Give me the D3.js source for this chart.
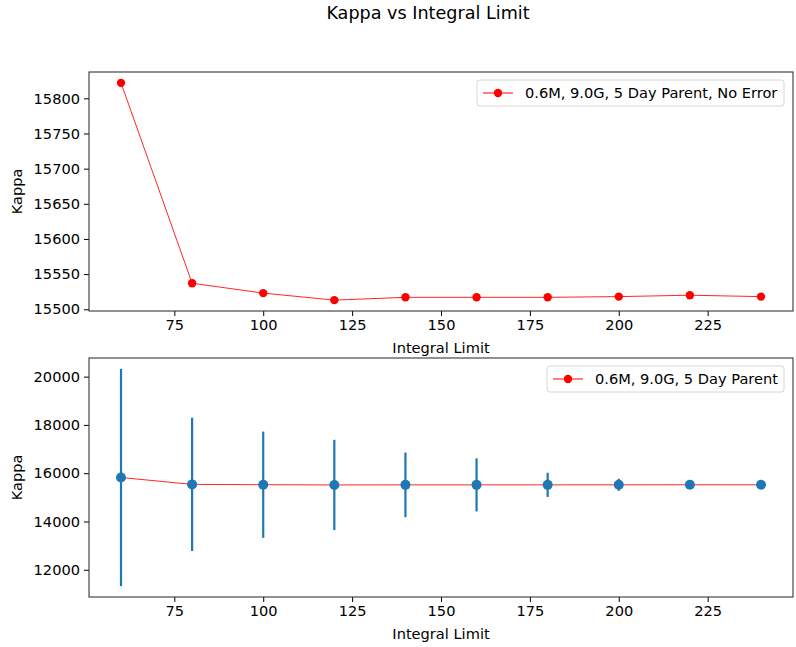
<html>
<script src='https://d3js.org/d3.v7.min.js'></script>
<style>
body {margin: 0; background: white;}
text {font-family: "DejaVu Sans", sans-serif; fill: #000;}
</style>
<body>
<svg width=796 height=647></svg>
<script>

// integral limits and kappa
const limits = [60, 80, 100, 120, 140, 160, 180, 200, 220, 240];
const kappa = [15822, 15537, 15523, 15513, 15517, 15517, 15517, 15518, 15520, 15518];
const kappaErr = [4500, 2760, 2200, 1870, 1340, 1100, 500, 250, 100, 50];
const xTicks = [75, 100, 125, 150, 175, 200, 225];
const yTicksTop = [15500, 15550, 15600, 15650, 15700, 15750, 15800];
const yTicksBottom = [12000, 14000, 16000, 18000, 20000];

const data = limits.map((x, i) => ({x: x, y: kappa[i], e: kappaErr[i]}));

var svg = d3.select("svg");
var left = 89, right = 793;
var fs = "14.6px";

svg.append("text")
  .attr("x", 428).attr("y", 19)
  .style("text-anchor", "middle").style("font-size", "17.6px")
  .text("Kappa vs Integral Limit");

// matplotlib style 5% margins
function pad(lo, hi) { var m = (hi - lo) * 0.05; return [lo - m, hi + m]; }

var xDom = pad(d3.min(limits), d3.max(limits));
var x = d3.scaleLinear().domain(xDom).range([left, right]);

function panel(top, bottom, yDom, yTicks, legendText, legendW, withErr) {
  var y = d3.scaleLinear().domain(yDom).range([bottom, top]);
  var g = svg.append("g");

  g.append("g").attr("transform", "translate(0," + bottom + ")")
    .call(d3.axisBottom(x).tickValues(xTicks).tickSize(5).tickPadding(4))
    .call(a => a.select(".domain").remove())
    .selectAll("text").style("font-size", fs);
  g.append("g").attr("transform", "translate(" + left + ",0)")
    .call(d3.axisLeft(y).tickValues(yTicks).tickSize(5).tickPadding(4).tickFormat(d3.format("d")))
    .call(a => a.select(".domain").remove())
    .selectAll("text").style("font-size", fs);

  var line = d3.line().x(d => x(d.x)).y(d => y(d.y));
  g.append("path").datum(data).attr("d", line)
    .style("fill", "none").style("stroke", "#ff0000").style("stroke-width", 1).style("opacity", 0.85);
  g.selectAll("circle.red").data(data).enter().append("circle").attr("class", "red")
    .attr("cx", d => x(d.x)).attr("cy", d => y(d.y)).attr("r", 4.2).attr("fill", "#ff0000");

  if (withErr) {
    g.selectAll("line.err").data(data).enter().append("line").attr("class", "err")
      .attr("x1", d => x(d.x)).attr("x2", d => x(d.x))
      .attr("y1", d => y(d.y - d.e)).attr("y2", d => y(d.y + d.e))
      .style("stroke", "#1f77b4").style("stroke-width", 2.2);
    g.selectAll("circle.blue").data(data).enter().append("circle").attr("class", "blue")
      .attr("cx", d => x(d.x)).attr("cy", d => y(d.y)).attr("r", 5).attr("fill", "#1f77b4");
  }

  g.append("rect").attr("x", left).attr("y", top)
    .attr("width", right - left).attr("height", bottom - top)
    .style("fill", "none").style("stroke", "#222").style("stroke-width", 1);

  // legend
  var lx = right - 9 - legendW, ly = top + 8;
  var lg = g.append("g").attr("transform", "translate(" + lx + "," + ly + ")");
  lg.append("rect").attr("width", legendW).attr("height", 26).attr("rx", 3)
    .style("fill", "white").style("fill-opacity", 0.8).style("stroke", "#d6d6d6");
  lg.append("line").attr("x1", 6).attr("x2", 36).attr("y1", 13).attr("y2", 13)
    .style("stroke", "#ff0000").style("stroke-width", 1);
  lg.append("circle").attr("cx", 21).attr("cy", 13).attr("r", 4.2).attr("fill", "#ff0000");
  lg.append("text").attr("x", 48).attr("y", 18).style("font-size", fs).text(legendText);

  g.append("text").attr("x", (left + right) / 2).attr("y", bottom + 42)
    .style("text-anchor", "middle").style("font-size", fs).text("Integral Limit");
  g.append("text").attr("transform", "translate(22," + (top + bottom) / 2 + ") rotate(-90)")
    .style("text-anchor", "middle").style("font-size", fs).text("Kappa");
}

panel(72, 311, pad(d3.min(kappa), d3.max(kappa)), yTicksTop,
  "0.6M, 9.0G, 5 Day Parent, No Error", 307, false);
panel(358, 597, pad(d3.min(data, d => d.y - d.e), d3.max(data, d => d.y + d.e)), yTicksBottom,
  "0.6M, 9.0G, 5 Day Parent", 237, true);

</script>
</body>
</html>
